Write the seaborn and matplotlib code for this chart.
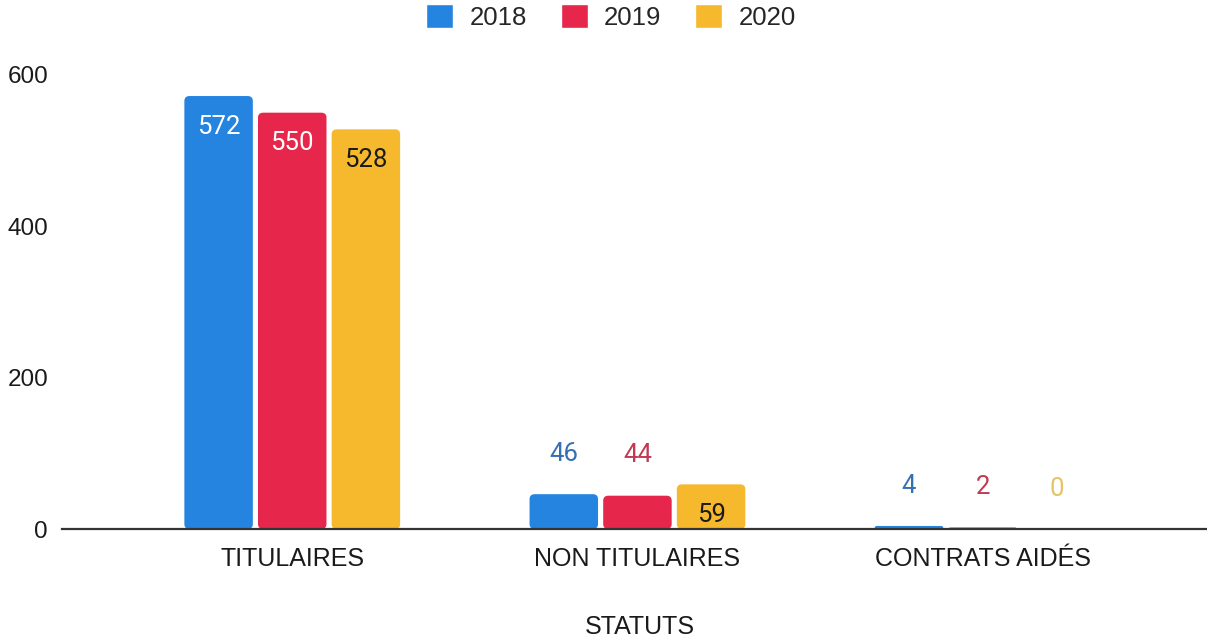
import matplotlib
matplotlib.use("Agg")
import matplotlib.pyplot as plt
from matplotlib.patches import FancyBboxPatch
import seaborn as sns
import pandas as pd

# Effectifs par statut et par année
categories = ["TITULAIRES", "NON TITULAIRES", "CONTRATS AIDÉS"]
years = ["2018", "2019", "2020"]
values_2018 = [572, 46, 4]
values_2019 = [550, 44, 2]
values_2020 = [528, 59, 0]

bar_colors = ["#2484e0", "#e6264b", "#f6b82c"]
outside_label_colors = ["#3570b0", "#c23a52", "#e3c46a"]
inside_label_colors = ["white", "white", "#1a1a1a"]

series = {"2018": values_2018, "2019": values_2019, "2020": values_2020}
df = pd.DataFrame(
    [(cat, yr, series[yr][i]) for yr in years for i, cat in enumerate(categories)],
    columns=["statut", "annee", "effectif"],
)

sns.set_style("white")
plt.rcParams["font.family"] = ["Liberation Sans", "DejaVu Sans"]

W, H = 1207, 641
fig = plt.figure(figsize=(W / 100, H / 100), dpi=100)
ax = fig.add_axes([62 / W, 1 - 529 / H, 1 - 62 / W, (529 - 59.7) / H])

sns.barplot(
    data=df, x="statut", y="effectif", hue="annee",
    order=categories, hue_order=years, palette=bar_colors,
    width=0.64, gap=0.07, ax=ax, legend=True, saturation=1,
)

ax.set_ylim(0, 620)
ax.set_xlim(-0.667, 2.65)
ax.set_yticks([0, 200, 400, 600])
ax.tick_params(axis="y", length=0, pad=10, labelsize=17.5, labelcolor="#1a1a1a")
ax.tick_params(axis="x", length=0, pad=13, labelsize=18, labelcolor="#1a1a1a")
for side in ["left", "right", "top"]:
    ax.spines[side].set_visible(False)
ax.spines["bottom"].set_color("#333333")
ax.spines["bottom"].set_linewidth(1.6)
ax.set_ylabel("")
ax.set_xlabel("STATUTS", fontsize=18, color="#1a1a1a")
ax.xaxis.set_label_coords((640 - 62) / (W - 62), -(615 - 529) / 470)

# Rounded bar tops, replacing the plain rectangles
aspect = 6.6 / 0.015
for container in ax.containers:
    for patch in container:
        x, y = patch.get_x(), patch.get_y()
        w, h = patch.get_width(), patch.get_height()
        if h <= 0:
            patch.set_visible(False)
            continue
        r = 0.015 if h > 20 else 0.006
        rounded = FancyBboxPatch(
            (x, y), w, h,
            boxstyle=f"round,pad=0,rounding_size={r}",
            mutation_aspect=aspect if h > 20 else 2.0 / 0.006,
            facecolor=patch.get_facecolor(), edgecolor="none", zorder=2,
        )
        ax.add_patch(rounded)
        patch.set_visible(False)

# Value labels: inside tall bars, above short ones
for j, yr in enumerate(years):
    container = ax.containers[j]
    for i, patch in enumerate(container):
        v = series[yr][i]
        xc = patch.get_x() + patch.get_width() / 2
        if v >= 50:
            ax.annotate(str(v), (xc, v), xytext=(0, -22), textcoords="offset points",
                        ha="center", va="center", fontsize=18.5, family="Roboto",
                        color=inside_label_colors[j], zorder=3)
        else:
            ax.annotate(str(v), (xc, v), xytext=(0, 29), textcoords="offset points",
                        ha="center", va="center", fontsize=18.5, family="Roboto",
                        color=outside_label_colors[j], zorder=3)

handles, labels = ax.get_legend_handles_labels()
ax.get_legend().remove()
fig.legend(
    handles, labels, loc="center", bbox_to_anchor=(611 / W, 1 - 17 / H), ncol=3,
    frameon=False, fontsize=18.5, handlelength=1.05, handleheight=1.05,
    columnspacing=1.3, handletextpad=0.65,
)

fig.savefig("out.png", dpi=100)
